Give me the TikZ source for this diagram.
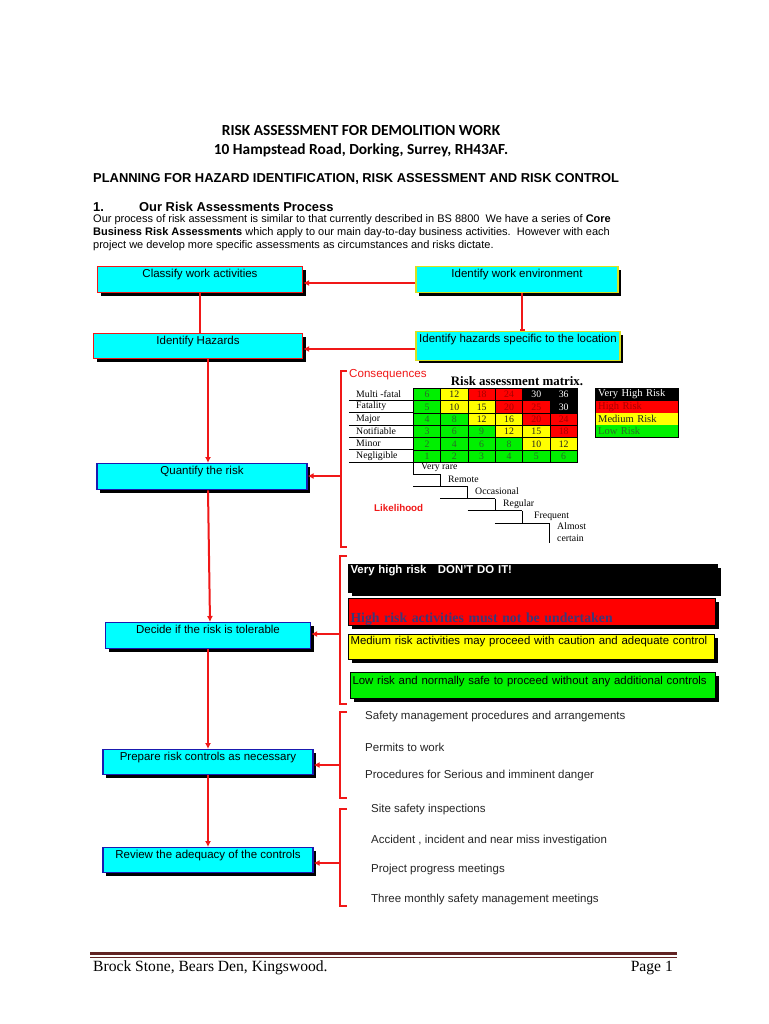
\documentclass[tikz,border=0pt]{standalone}
\usepackage{fontspec}
\setmainfont{Liberation Sans}
\newfontfamily\calibrifont{Carlito}
\newfontfamily\timesfont{Liberation Serif}
\usepackage{xcolor}
\usepackage{tikz}
\usetikzlibrary{positioning, arrows.meta, shadows}
\definecolor{BoxCyan}{HTML}{00FFFF}
\definecolor{BoxBlue}{HTML}{1A1AB0}
\definecolor{LineRed}{HTML}{F01818}
\definecolor{EnvYellow}{HTML}{D8E020}
\definecolor{FooterRed}{HTML}{622423}
\definecolor{HighText}{HTML}{3C3878}
\definecolor{mG}{HTML}{00F000}
\definecolor{mY}{HTML}{FFFF00}
\definecolor{mR}{HTML}{FF0000}
\definecolor{mK}{HTML}{000000}
\definecolor{tG}{HTML}{2A6A2A}
\definecolor{tY}{HTML}{202020}
\definecolor{tR}{HTML}{A80000}
\definecolor{tK}{HTML}{FFFFFF}

\begin{document}
\begin{tikzpicture}[x=1pt, y=-1pt,
            stepbox/.style={draw=BoxBlue, line width=1.3pt, fill=BoxCyan, anchor=north, font=\fontsize{11.5}{13}\selectfont, inner xsep=2pt, inner ysep=2pt, text height=8.5pt, text depth=13.5pt, drop shadow={shadow xshift=3pt, shadow yshift=-3pt, fill=black, opacity=1}},
            envbox/.style={stepbox, draw=EnvYellow},
            riskbar/.style={draw=black, line width=1pt, anchor=north west, align=left, inner xsep=2pt, inner ysep=1pt, font=\fontsize{11.4}{13}\selectfont, drop shadow={shadow xshift=3pt, shadow yshift=-3pt, fill=black, opacity=1}},
            flow/.style={draw=LineRed, line width=2pt, -{Latex[length=6pt, width=6pt]}},
            brace/.style={draw=LineRed, line width=1.4pt},
            listitem/.style={anchor=west, inner sep=0pt, font=\fontsize{11.5}{13}\selectfont, text=black!85},
            cell/.style={draw=black, line width=0.7pt, anchor=north west, minimum width=27.33pt, minimum height=12.33pt, inner sep=0pt, font=\timesfont\fontsize{9.8}{10}\selectfont},
            rowlabel/.style={anchor=west, inner sep=0pt, font=\timesfont\fontsize{9.8}{11}\selectfont},
            legendcell/.style={anchor=north west, minimum height=12.33pt, text width=77pt, align=left, inner xsep=3pt, inner ysep=0pt, font=\timesfont\fontsize{10.5}{11}\selectfont},
            stair/.style={draw=black, line width=0.9pt}
        ]
            \fill[white] (0,0) rectangle (768,1024);
            \useasboundingbox (0,0) rectangle (768,1024);

            \node[font=\calibrifont\bfseries\fontsize{15.4}{17}\selectfont] at (361,131) (title) {RISK ASSESSMENT FOR DEMOLITION WORK};
            \node[font=\calibrifont\bfseries\fontsize{15.4}{17}\selectfont] at (361,150) (address) {10 Hampstead Road, Dorking, Surrey, RH43AF.};
            \node[anchor=west, inner sep=0pt, font=\bfseries\fontsize{12.9}{14}\selectfont] at (93,179) (planning) {PLANNING FOR HAZARD IDENTIFICATION, RISK ASSESSMENT AND RISK CONTROL};
            \node[anchor=west, inner sep=0pt, font=\bfseries\fontsize{12.9}{14}\selectfont] at (93,207) (secnum) {1.};
            \node[anchor=west, inner sep=0pt, font=\bfseries\fontsize{12.9}{14}\selectfont] at (139,207) (sectitle) {Our Risk Assessments Process};
            \node[anchor=north west, inner sep=0pt, align=left, font=\fontsize{11}{13}\selectfont] at (93,214) (intro) {
                Our process of risk assessment is similar to that currently described in BS 8800\ \ We have a series of \textbf{Core}\\
                \textbf{Business Risk Assessments} which apply to our main day-to-day business activities.\ \ However with each\\
                project we develop more specific assessments as circumstances and risks dictate.
            };

            \node[stepbox, draw=LineRed, minimum width=205pt] at (200,266) (classify) {Classify work activities};
            \node[stepbox, draw=LineRed, minimum width=209pt, text depth=12.5pt] at (198,333) (hazards) {Identify Hazards};
            \node[stepbox, minimum width=210pt] at (202,463) (quantify) {Quantify the risk};
            \node[stepbox, minimum width=205pt] at (208,622) (decide) {Decide if the risk is tolerable};
            \node[stepbox, minimum width=210pt, text depth=12.5pt] at (208,749) (prepare) {Prepare risk controls as necessary};
            \node[stepbox, minimum width=210pt, text depth=12.5pt] at (208,847) (review) {Review the adequacy of the controls};

            \node[envbox, minimum width=202pt] at (517,266) (workenv) {Identify work environment};
            \node[envbox, minimum width=204pt, text depth=16pt] at (518,331) (hazloc) {Identify hazards specific to the location};

            \coordinate (envlevel) at (0,283);
            \coordinate (loclevel) at (0,349);
            \draw[flow] (workenv.west |- envlevel) -- (classify.east |- envlevel);
            \draw[flow, -{Bar[width=5pt]}] ([xshift=5pt]workenv.south) -- ([xshift=4pt]hazloc.north);
            \draw[flow] (hazloc.west |- loclevel) -- (hazards.east |- loclevel);
            \draw[flow, -] (classify.south) -- (classify.south |- hazards.north);
            \draw[flow] ([xshift=10pt]hazards.south) -- ([xshift=6pt]quantify.north);
            \draw[flow] ([xshift=6pt]quantify.south) -- ([xshift=2pt]decide.north);
            \draw[flow] (decide.south) -- (prepare.north);
            \draw[flow] (prepare.south) -- (review.north);

            \draw[brace] (347,371) -- (341,371) -- (341,547) -- (347,547);
            \coordinate (conseq) at (341,476);
            \draw[flow] (conseq) -- (conseq -| quantify.east);
            \draw[brace] (347,556) -- (340,556) -- (340,704) -- (347,704);
            \coordinate (tolerate) at (340,634);
            \draw[flow] (tolerate) -- (tolerate -| decide.east);
            \draw[brace] (347,712) -- (340,712) -- (340,798) -- (347,798);
            \coordinate (controls) at (340,765);
            \draw[flow] (controls) -- (controls -| prepare.east);
            \draw[brace] (347,809) -- (340,809) -- (340,906) -- (347,906);
            \coordinate (monitor) at (340,863);
            \draw[flow] (monitor) -- (monitor -| review.east);

            \node[anchor=west, inner sep=0pt, text=LineRed, font=\fontsize{11.6}{13}\selectfont] at (349,375) (conseqlabel) {Consequences};
            \node[font=\timesfont\bfseries\fontsize{12.9}{14}\selectfont] at (517,381) (matrixtitle) {Risk assessment matrix.};
            \foreach \lab [count=\i] in {Multi -fatal, Fatality, Major, Notifiable, Minor, Negligible} {
                \node[rowlabel] at (356,388+12.33*\i-6.17) (row-\i) {\lab};
                \draw[stair, line width=0.7pt] (349,388+12.33*\i) -- (413,388+12.33*\i);
                \foreach \j in {1,...,6} {
                    \pgfmathtruncatemacro\score{(7-\i)*\j}
                    \ifnum\score>28 \def\tone{K}\else\ifnum\score>17 \def\tone{R}\else\ifnum\score>9 \def\tone{Y}\else\def\tone{G}\fi\fi\fi
                    \node[cell, fill=m\tone, text=t\tone] at (413+27.33*\j-27.33,388+12.33*\i-12.33) (cell-\i-\j) {\score};
                }
            }

            \foreach \lab/\tone [count=\k] in {Very High Risk/K, High Risk/R, Medium Risk/Y, Low Risk/G} {
                \node[legendcell, fill=m\tone, text=t\tone] at (595,388+12.33*\k-12.33) (legend-\k) {\lab};
            }
            \draw[black, line width=0.8pt] (legend-1.north west) rectangle (legend-4.south east);

            \foreach \k in {1,...,5} {
                \pgfmathsetmacro\cx{413+27.33*(\k-1)}
                \pgfmathsetmacro\ytop{462+12.2*(\k-1)}
                \pgfmathsetmacro\ybot{462+12.2*\k}
                \pgfmathsetmacro\xfrom{413+27.33*max(\k-2,0)}
                \draw[stair] (\cx,\ytop) -- (\cx,\ybot);
                \draw[stair] (\xfrom,\ybot) -- (\cx+27.33,\ybot);
            }
            \draw[stair] (549.65,523) -- (549.65,543);
            \node[rowlabel] at (421,467.5) (veryrare) {Very rare};
            \node[rowlabel] at (448,479.5) (remote) {Remote};
            \node[rowlabel] at (475,491.5) (occasional) {Occasional};
            \node[rowlabel] at (503,504) (regular) {Regular};
            \node[rowlabel] at (534,516) (frequent) {Frequent};
            \node[anchor=north west, inner sep=0pt, align=left, font=\timesfont\fontsize{9.8}{12}\selectfont] at (557,522) (almost) {Almost\\certain};
            \node[anchor=west, inner sep=0pt, text=LineRed, font=\bfseries\fontsize{9.8}{11}\selectfont] at (374,508) (likelihood) {Likelihood};

            \node[riskbar, fill=black, text=white, font=\bfseries\fontsize{11.4}{13}\selectfont, text width=365pt, text height=8pt, text depth=18pt] at (348,564) (veryhigh) {Very high risk\ \ \ DON'T DO IT!};
            \node[riskbar, fill=mR, text=HighText, font=\timesfont\bfseries\fontsize{13.8}{15}\selectfont, text width=363pt, text height=23pt, text depth=2pt] at (348,598) (high) {High risk activities must not be undertaken};
            \node[riskbar, fill=mY, text width=362pt, text height=9pt, text depth=14pt] at (348,634) (medium) {Medium risk activities may proceed with caution and adequate control};
            \node[riskbar, fill=mG, text width=361pt, text height=11pt, text depth=13pt] at (350,672) (low) {Low risk and normally safe to proceed without any additional controls};

            \node[listitem] at (365,717) (procedures) {Safety management procedures and arrangements};
            \node[listitem] at (365,747) (permits) {Permits to work};
            \node[listitem] at (365,776) (danger) {Procedures for Serious and imminent danger};
            \node[listitem] at (371,810) (inspections) {Site safety inspections};
            \node[listitem] at (371,841) (accident) {Accident , incident and near miss investigation};
            \node[listitem] at (371,870) (progress) {Project progress meetings};
            \node[listitem] at (371,900) (meetings) {Three monthly safety management meetings};

            \draw[FooterRed, line width=3pt] (90,953) -- (677,953);
            \draw[FooterRed, line width=0.8pt] (90,957.5) -- (677,957.5);
            \node[anchor=west, inner sep=0pt, font=\timesfont\fontsize{15.6}{17}\selectfont] at (93,968) (footaddr) {Brock Stone, Bears Den, Kingswood.};
            \node[anchor=east, inner sep=0pt, font=\timesfont\fontsize{15.6}{17}\selectfont] at (673,968) (pagenum) {Page 1};

        \end{tikzpicture}
\end{document}
